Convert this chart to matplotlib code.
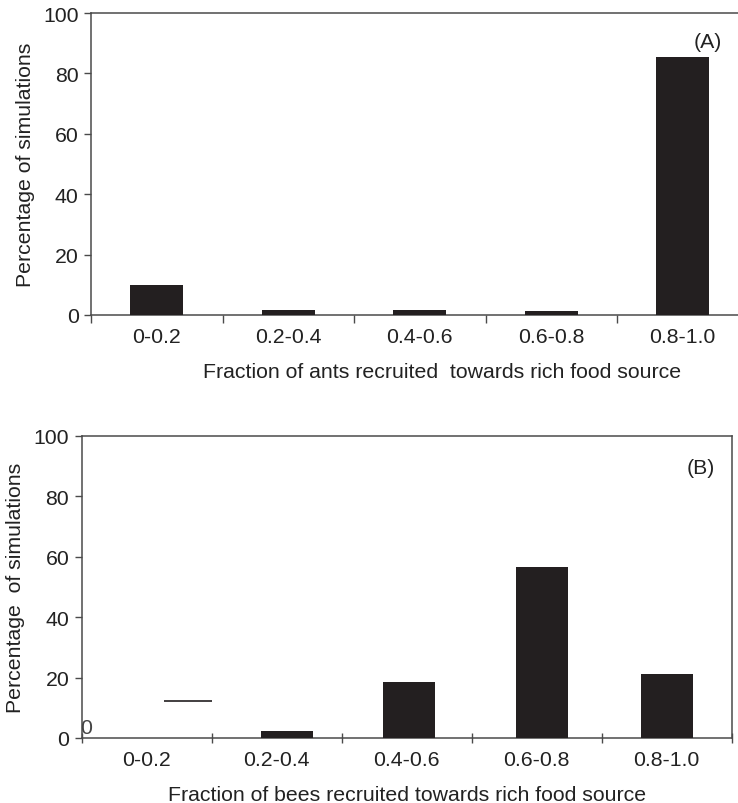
import matplotlib
matplotlib.use("Agg")
import matplotlib.pyplot as plt
import numpy as np

plt.rcParams["font.family"] = ["Liberation Sans", "DejaVu Sans"]

bins = ["0-0.2", "0.2-0.4", "0.4-0.6", "0.6-0.8", "0.8-1.0"]
ants_pct = [10.0, 1.7, 1.7, 1.3, 85.5]
bees_pct = [12.1, 2.2, 18.5, 56.6, 21.2]

BAR = "#231f20"
SPINE = "#4a4a4a"
TXT = "#222222"
FS = 15.3

fig = plt.figure(figsize=(7.38, 8.04), dpi=100)
ax_a = fig.add_axes([91 / 738, 1 - 316 / 804, 657.5 / 738, 302 / 804])
ax_b = fig.add_axes([81.7 / 738, 1 - 739 / 804, 650 / 738, 302 / 804])

x = np.arange(len(bins))


def style(ax, ylabel, xlabel, xlabel_x=0.5):
    ax.set_xlim(-0.5, len(bins) - 0.5)
    ax.set_ylim(0, 100)
    ax.set_yticks(range(0, 101, 20))
    ax.set_xticks(np.arange(len(bins) + 1) - 0.5)
    ax.set_xticklabels([])
    ax.set_xticks(x, minor=True)
    ax.set_xticklabels(bins, minor=True, fontsize=FS, color=TXT)
    ax.tick_params(axis="x", which="minor", length=0, pad=9)
    ax.tick_params(axis="x", which="major", length=6, width=1, color=SPINE)
    ax.tick_params(axis="y", length=5, width=1, color=SPINE,
                   labelsize=FS, labelcolor=TXT, pad=4)
    for sp in ax.spines.values():
        sp.set_color(SPINE)
        sp.set_linewidth(1.1)
    ax.set_ylabel(ylabel, fontsize=FS, color=TXT, labelpad=6)
    ax.set_xlabel(xlabel, fontsize=FS, color=TXT, labelpad=11, x=xlabel_x)


# (A) ants
ax_a.bar(x, ants_pct, width=0.4, color=BAR, zorder=3)
style(ax_a, "Percentage of simulations",
      "Fraction of ants recruited  towards rich food source", xlabel_x=0.534)
ax_a.spines["right"].set_visible(False)
ax_a.text(4.3, 90.5, "(A)", fontsize=FS, ha="right", va="center", color=TXT)

# (B) bees; first bin only shows its top edge
shift = [0.32, 0.08, 0.02, 0.04, 0.0]
xb = x + np.array(shift)
ax_b.hlines(bees_pct[0], xb[0] - 0.185, xb[0] + 0.185, color=BAR, lw=1.2, zorder=3)
ax_b.bar(xb[1:], bees_pct[1:], width=0.4, color=BAR, zorder=3)
style(ax_b, "Percentage  of simulations",
      "Fraction of bees recruited towards rich food source")
ax_b.tick_params(axis="x", which="major", direction="inout", length=7)
ax_b.text(4.37, 89.5, "(B)", fontsize=FS, ha="right", va="center", color=TXT)
ax_b.text(-0.47, 0.3, "0", fontsize=FS, ha="center", va="bottom", color="#444444")

fig.savefig("out.png", dpi=100)
